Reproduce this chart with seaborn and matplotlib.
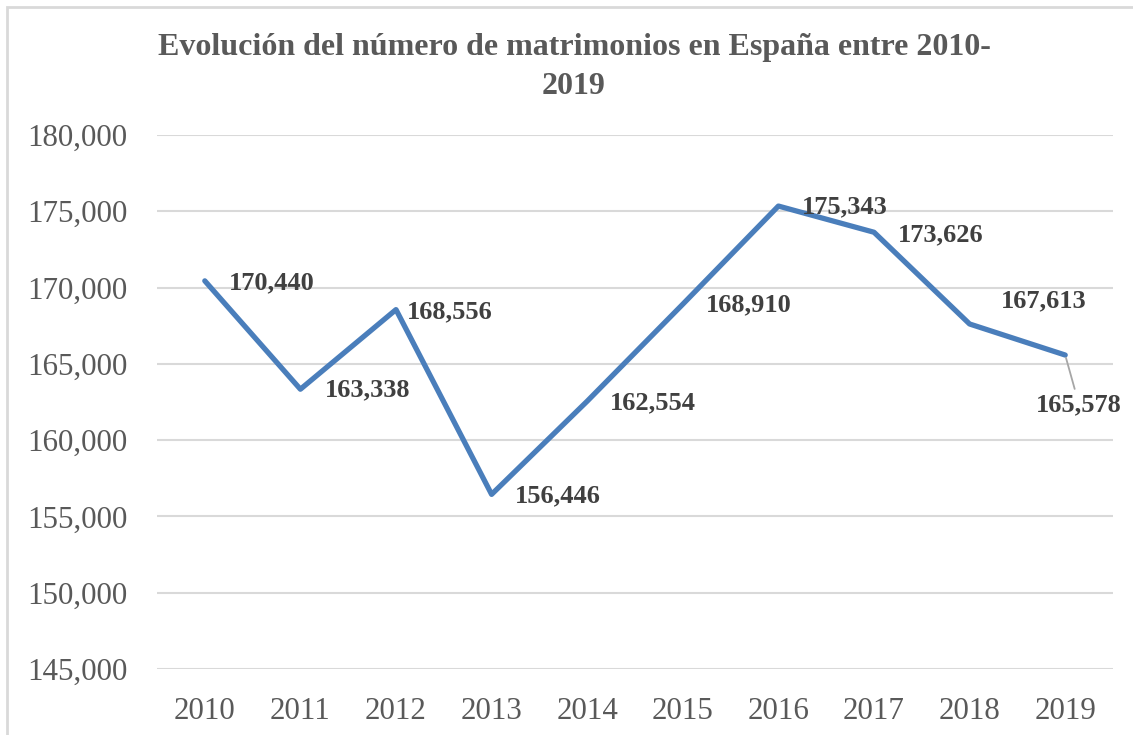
import numpy as np
import pandas as pd
import seaborn as sns
from matplotlib import pyplot as plt
from matplotlib.patches import Rectangle

sns.set_style('white')
plt.rcParams['font.family'] = ['Liberation Serif', 'DejaVu Serif']

years = [2010, 2011, 2012, 2013, 2014, 2015, 2016, 2017, 2018, 2019]
matrimonios = [170440, 163338, 168556, 156446, 162554, 168910, 175343, 173626, 167613, 165578]
yticks = [145000, 150000, 155000, 160000, 165000, 170000, 175000, 180000]
# label offsets in pixels (dx, dy), picked to sit like the Excel labels
offsets = [(24, -2), (24, -1), (11, -2), (23, -1), (23, -2), (23, -1), (23, -1), (24, -3), (31, 23), (14, -50)]

df = pd.DataFrame({'anio': years, 'matrimonios': matrimonios})

fig = plt.figure(figsize=[11.33, 7.35], dpi=100)
ax = fig.add_axes([157/1133, 1-669/735, (1113-157)/1133, (669-135)/735])

# chart frame like excel
fig.patches.append(Rectangle((7/1133, -0.05), 1.1, 1-7/735+0.05, transform=fig.transFigure,
                             fill=False, edgecolor='#D9D9D9', lw=2))

sns.lineplot(data=df, x='anio', y='matrimonios', ax=ax, color='#4A7EBB', lw=3.8,
             solid_joinstyle='round', solid_capstyle='round')

ax.set_xlim(2009.5, 2019.5)
ax.set_ylim(145000, 180000)
ax.set_yticks(yticks)
ax.set_yticklabels([f'{v:,}' for v in yticks])
ax.set_xticks(years)
ax.set_xticklabels([str(y) for y in years])
ax.grid(axis='y', color='#D9D9D9', lw=1.5)
ax.set_axisbelow(True)
for s in ['left', 'right', 'top', 'bottom']:
    ax.spines[s].set_visible(False)
ax.tick_params(axis='both', length=0, labelsize=22.3, colors='#595959')
ax.tick_params(axis='y', pad=21)
ax.tick_params(axis='x', pad=20)
ax.set_xlabel('')
ax.set_ylabel('')

for i, (x, y) in enumerate(zip(years, matrimonios)):
    dx, dy = offsets[i]
    if i == len(years) - 1:
        ax.annotate(f'{y:,}', (x, y), xytext=(dx, dy), textcoords='offset pixels',
                    ha='center', va='center', fontsize=19, fontweight='bold', color='#404040',
                    arrowprops=dict(arrowstyle='-', color='#A6A6A6', lw=1.3, shrinkA=1, shrinkB=2))
    else:
        ax.annotate(f'{y:,}', (x, y), xytext=(dx, dy), textcoords='offset pixels',
                    ha='left', va='center', fontsize=19, fontweight='bold', color='#404040')

fig.text(574/1133, 1-67/735, 'Evolución del número de matrimonios en España entre 2010-\n2019',
         ha='center', va='center', fontsize=23, fontweight='bold', color='#595959', linespacing=1.45)

plt.savefig('out.png', dpi=100)
